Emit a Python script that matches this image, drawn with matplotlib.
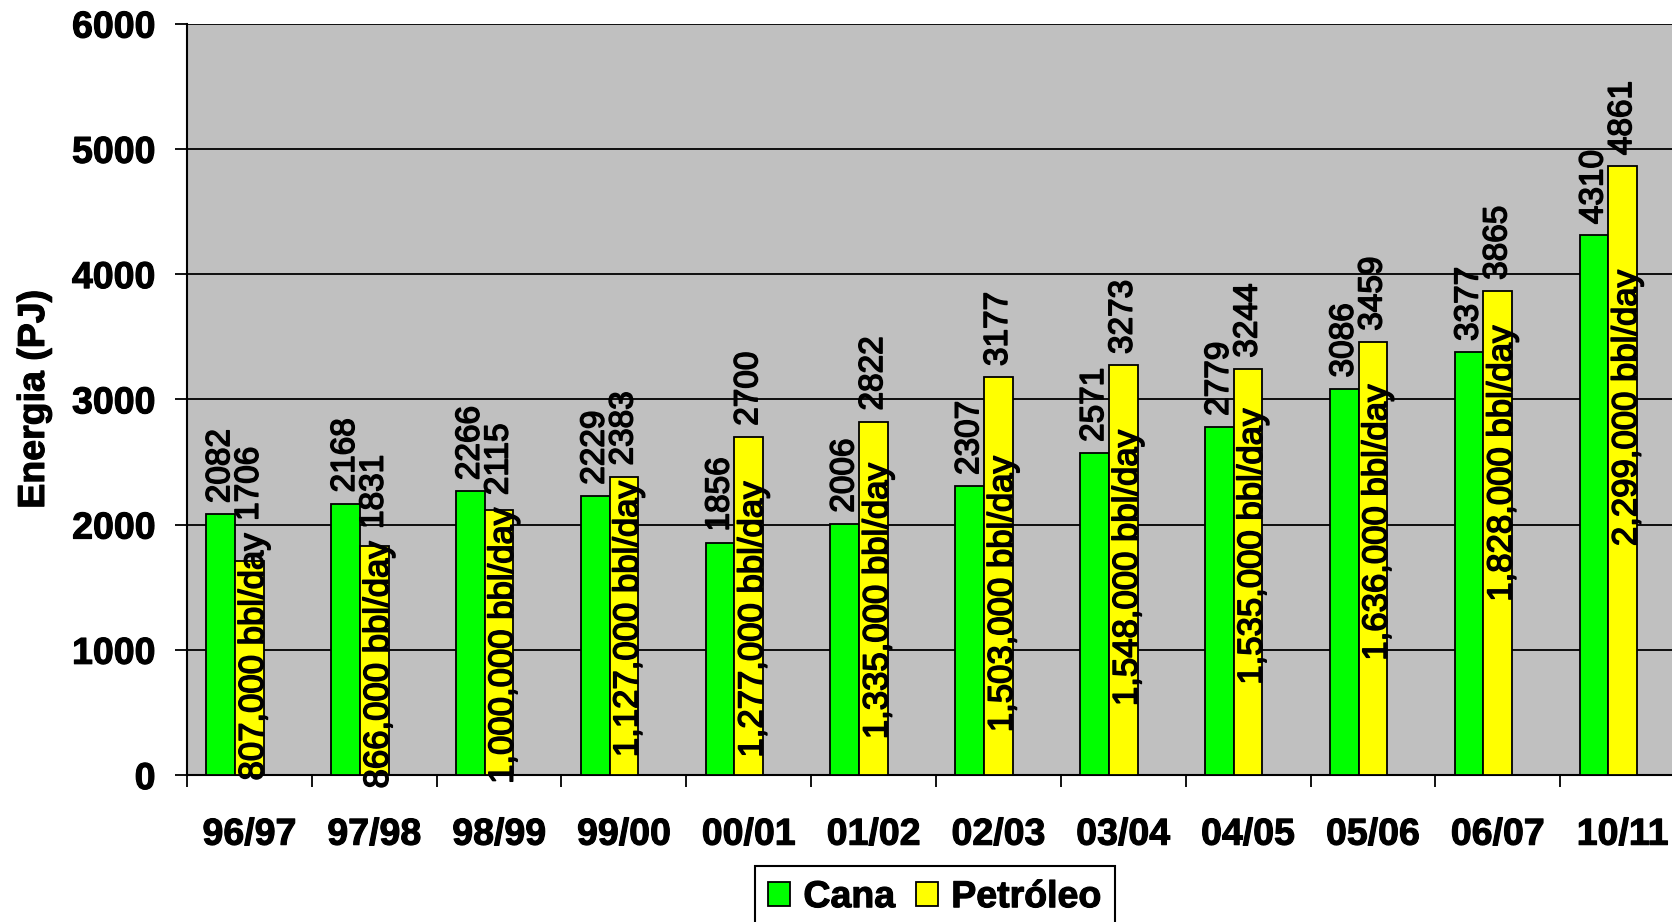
import matplotlib
matplotlib.use("Agg")
import matplotlib.pyplot as plt
import matplotlib.patheffects as pe
from matplotlib.patches import Patch
import numpy as np

plt.rcParams['font.family'] = ['Liberation Sans', 'DejaVu Sans']

# ---- data ----
safras   = ["96/97", "97/98", "98/99", "99/00", "00/01", "01/02",
            "02/03", "03/04", "04/05", "05/06", "06/07", "10/11"]
cana     = [2082, 2168, 2266, 2229, 1856, 2006, 2307, 2571, 2779, 3086, 3377, 4310]
petroleo = [1706, 1831, 2115, 2383, 2700, 2822, 3177, 3273, 3244, 3459, 3865, 4861]
bbl_dia  = ["807,000", "866,000", "1,000,000", "1,127,000", "1,277,000", "1,335,000",
            "1,503,000", "1,548,000", "1,535,000", "1,636,000", "1,828,000", "2,299,000"]

# vertical centre (in PJ) of each bbl/day note inside the yellow bars
bbl_centre = [945, 881, 1034, 1247, 1243, 1391, 1447, 1655, 1826, 2017, 2489, 2932]

GREEN  = "#00FF00"
YELLOW = "#FFFF00"
GRAY   = "#C0C0C0"
W      = 0.23
FS_TICK = 27
FS_VAL  = 24
FS_BBL  = 25

# slightly heavier glyphs
thick_b = [pe.withStroke(linewidth=0.8, foreground="black")]
thick_r = [pe.withStroke(linewidth=1.1, foreground="black")]

fig = plt.figure(figsize=(16.72, 9.22), dpi=100)
ax = fig.add_axes([0.1118, 0.1594, 0.896, 0.815])
ax.set_facecolor(GRAY)

x = np.arange(len(safras))
ax.bar(x - W, cana, W, color=GREEN, edgecolor="black", linewidth=1.3, zorder=3)
ax.bar(x, petroleo, W, color=YELLOW, edgecolor="black", linewidth=1.3, zorder=3)

ax.set_xlim(-0.5, len(safras) - 0.5)
ax.set_ylim(0, 6000)
ax.set_yticks(np.arange(0, 6001, 1000))
ax.yaxis.grid(True, color="black", linewidth=1.3, zorder=1)
ax.set_axisbelow(True)

# category labels at centres, tick marks at boundaries
ax.set_xticks(x)
ax.set_xticklabels(safras, fontsize=FS_TICK, fontweight="bold")
ax.set_xticks(np.arange(len(safras) + 1) - 0.5, minor=True)
ax.tick_params(axis="x", which="major", length=0, pad=30)
ax.tick_params(axis="x", which="minor", length=8.6, width=1.3, direction="out")
ax.tick_params(axis="y", length=8.6, width=1.3, pad=14, labelsize=FS_TICK)
for lab in ax.get_yticklabels() + ax.get_xticklabels():
    lab.set_fontweight("bold")
    lab.set_path_effects(thick_b)

for s in ["top", "right"]:
    ax.spines[s].set_visible(False)
for s in ["left", "bottom"]:
    ax.spines[s].set_linewidth(1.5)

ylab = ax.set_ylabel("Energia (PJ)", fontsize=FS_TICK, fontweight="bold",
                     va="center", path_effects=thick_b)
ax.yaxis.set_label_coords(-0.1021, 0.5)

# value labels on the green bars
for xi, v in zip(x, cana):
    ax.annotate(str(v), (xi - W, v), xytext=(0, 8), textcoords="offset points",
                rotation=90, ha="center", va="bottom", fontsize=FS_VAL,
                zorder=5, path_effects=thick_r)

# bbl/day notes inside the yellow bars
notes = []
for xi, t, yc in zip(x, bbl_dia, bbl_centre):
    notes.append(ax.annotate(f"{t} bbl/day", (xi, yc), xytext=(3, 0),
                             textcoords="offset points", rotation=90,
                             ha="center", va="center", fontsize=FS_BBL,
                             zorder=5, path_effects=thick_r))

# yellow value labels sit above the bar, or above the note if it sticks out
fig.canvas.draw()
rend = fig.canvas.get_renderer()
inv = ax.transData.inverted()
for xi, v, note in zip(x, petroleo, notes):
    top_bar = ax.transData.transform((xi, v))[1] + 8 * fig.dpi / 72
    top_note = note.get_window_extent(rend).y1 + 12
    ypix = max(top_bar, top_note)
    yv = inv.transform((0, ypix))[1]
    ax.text(xi, yv, str(v), rotation=90, ha="center", va="bottom",
            fontsize=FS_VAL, zorder=5, path_effects=thick_r)

handles = [Patch(facecolor=GREEN, edgecolor="black", linewidth=1.3),
           Patch(facecolor=YELLOW, edgecolor="black", linewidth=1.3)]
leg = fig.legend(handles, ["Cana", "Petróleo"], loc="upper center",
                 bbox_to_anchor=(0.559, 0.0607), ncol=2, frameon=True,
                 fancybox=False, edgecolor="black", framealpha=1,
                 prop={"size": FS_TICK, "weight": "bold"},
                 handlelength=0.6, handleheight=0.6, handletextpad=0.35,
                 columnspacing=0.55, borderpad=0.35, borderaxespad=0)
leg.get_frame().set_linewidth(1.5)
for t in leg.get_texts():
    t.set_path_effects(thick_b)

fig.savefig("out.png", dpi=100)
